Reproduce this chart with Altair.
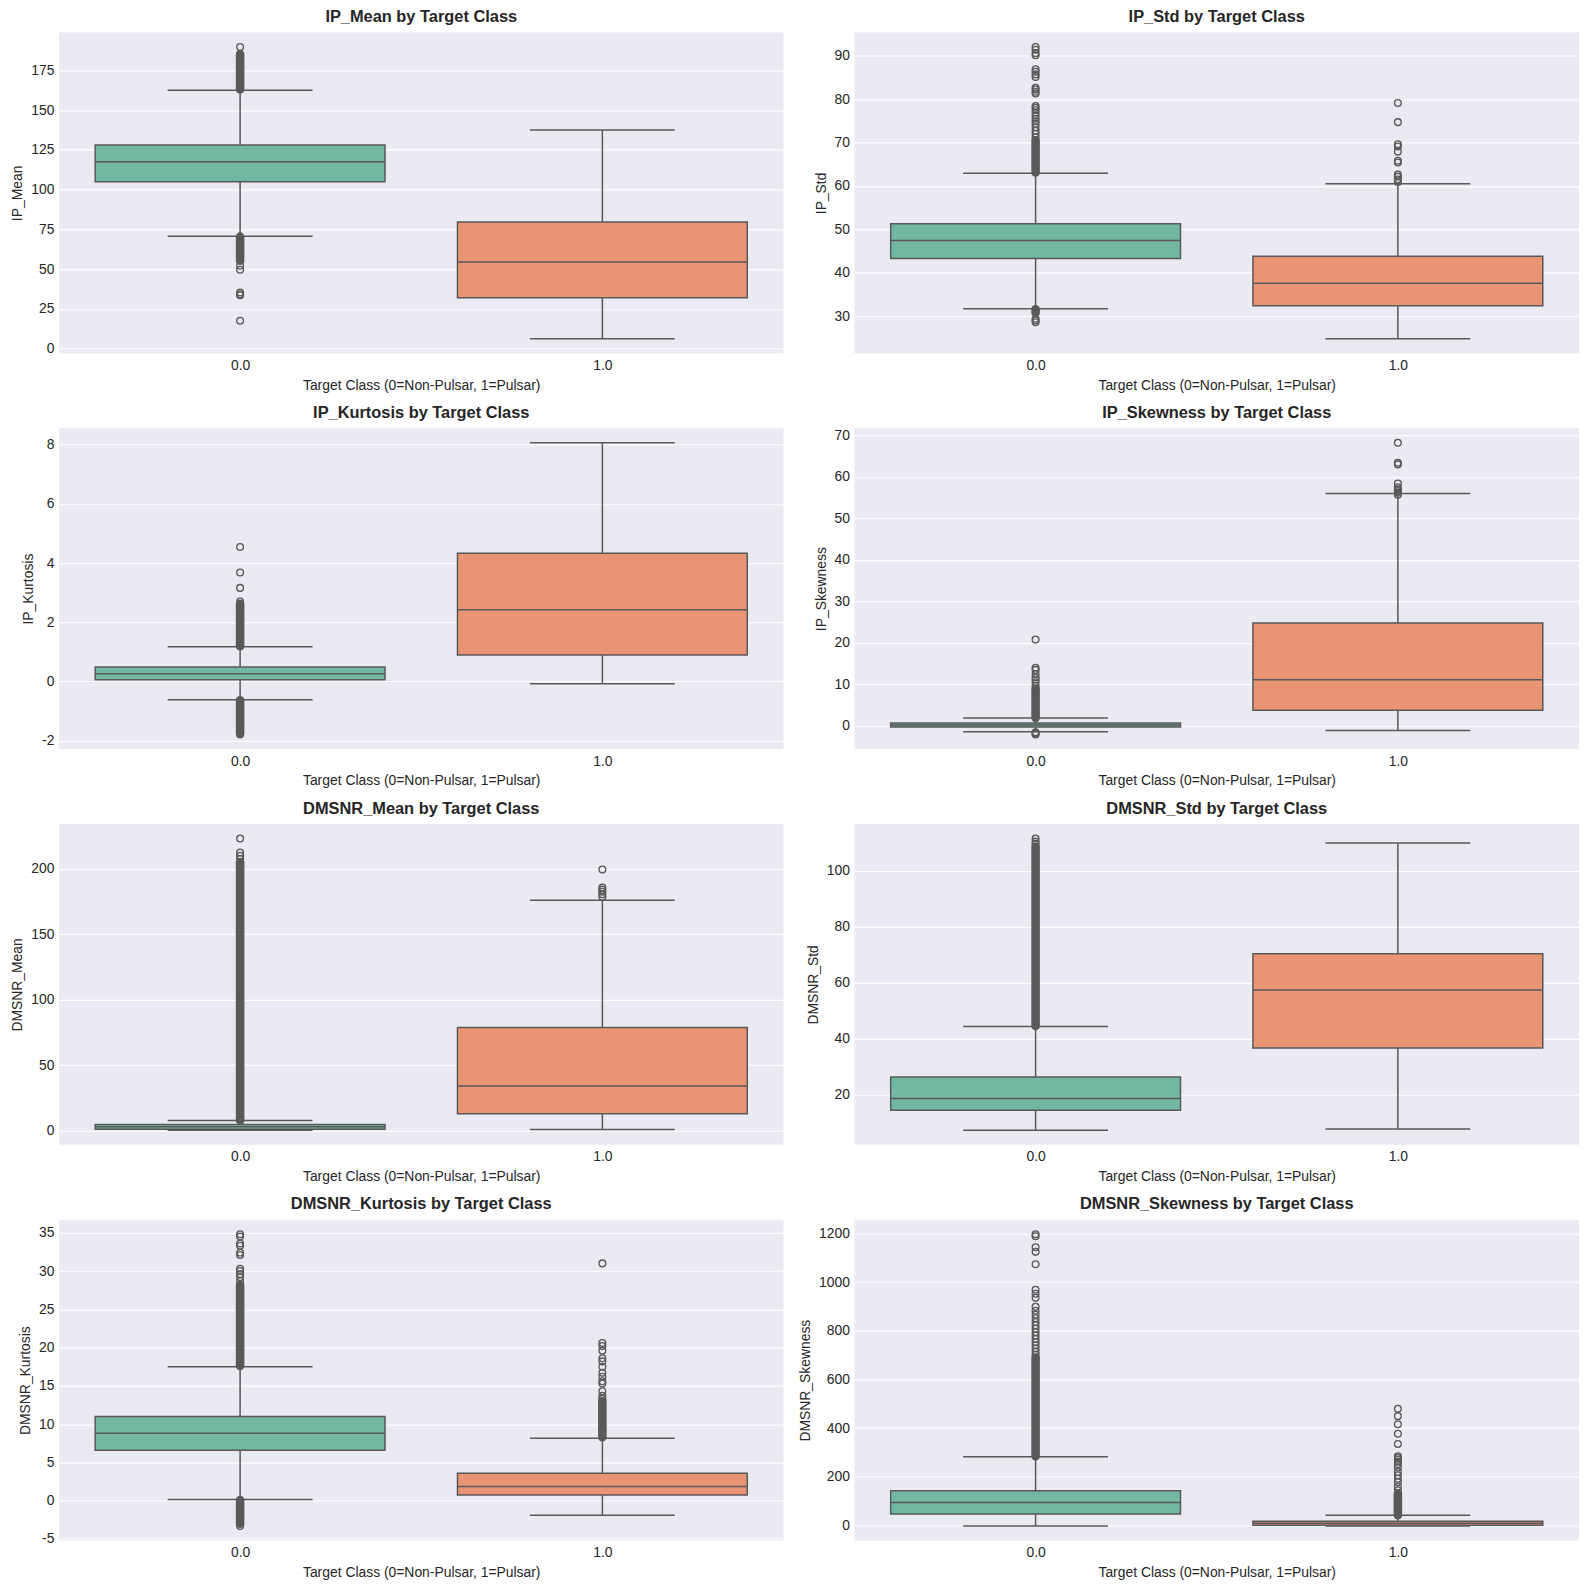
import altair as alt
import pandas as pd

FEATURES = ["IP_Mean", "IP_Std", "IP_Kurtosis", "IP_Skewness",
            "DMSNR_Mean", "DMSNR_Std", "DMSNR_Kurtosis", "DMSNR_Skewness"]
CLASSES = [0.0, 1.0]
X_TITLE = "Target Class (0=Non-Pulsar, 1=Pulsar)"

# box statistics per feature: [class 0.0, class 1.0]
Q1 = {"IP_Mean": [105.0, 31.9], "IP_Std": [43.3, 32.4], "IP_Kurtosis": [0.056, 0.89],
      "IP_Skewness": [-0.24, 3.8], "DMSNR_Mean": [1.0, 12.7], "DMSNR_Std": [14.4, 36.6],
      "DMSNR_Kurtosis": [6.6, 0.73], "DMSNR_Skewness": [47.6, 1.4]}
MEDIAN = {"IP_Mean": [117.5, 54.4], "IP_Std": [47.45, 37.6], "IP_Kurtosis": [0.256, 2.42],
          "IP_Skewness": [0.24, 11.1], "DMSNR_Mean": [2.8, 33.9], "DMSNR_Std": [18.6, 57.3],
          "DMSNR_Kurtosis": [8.8, 1.85], "DMSNR_Skewness": [93.9, 9.5]}
Q3 = {"IP_Mean": [128.1, 79.6], "IP_Std": [51.3, 43.8], "IP_Kurtosis": [0.49, 4.33],
      "IP_Skewness": [0.70, 24.8], "DMSNR_Mean": [4.5, 78.7], "DMSNR_Std": [26.3, 70.3],
      "DMSNR_Kurtosis": [11.0, 3.6], "DMSNR_Skewness": [143.0, 17.7]}
WHISK_LO = {"IP_Mean": [70.6, 6.2], "IP_Std": [31.7, 24.8], "IP_Kurtosis": [-0.62, -0.08],
            "IP_Skewness": [-1.43, -1.1], "DMSNR_Mean": [0.2, 0.76], "DMSNR_Std": [7.3, 7.7],
            "DMSNR_Kurtosis": [0.17, -1.9], "DMSNR_Skewness": [-1.98, -1.97]}
WHISK_HI = {"IP_Mean": [162.5, 137.5], "IP_Std": [62.9, 60.5], "IP_Kurtosis": [1.17, 8.06],
            "IP_Skewness": [1.90, 56.0], "DMSNR_Mean": [7.6, 176.0], "DMSNR_Std": [44.3, 109.8],
            "DMSNR_Kurtosis": [17.5, 8.17], "DMSNR_Skewness": [282.0, 42.0]}

# ranges where outliers are packed so tightly they read as a solid column: [class 0.0, class 1.0]
DENSE_RUNS = {
    "IP_Mean": [[(163.0, 185.3), (55.3, 70.4)], []],
    "IP_Std": [[(63.1, 70.5), (30.8, 31.6)], []],
    "IP_Kurtosis": [[(1.19, 2.62), (-1.75, -0.64)], []],
    "IP_Skewness": [[(1.95, 9.0)], []],
    "DMSNR_Mean": [[(7.7, 205.0)], []],
    "DMSNR_Std": [[(44.5, 108.5)], []],
    "DMSNR_Kurtosis": [[(17.6, 28.2), (-3.0, 0.1)], [(8.3, 13.0)]],
    "DMSNR_Skewness": [[(285.0, 690.0)], [(42.0, 130.0)]],
}

# individually visible outliers: [class 0.0, class 1.0]
OUTLIERS = {
    "IP_Mean": [[189.7, 52.1, 49.6, 35.3, 34.2, 33.5, 17.5], []],
    "IP_Std": [
        [71.2, 72.0, 72.7, 73.5, 74.3, 74.9, 75.5, 76.2, 76.9, 77.5, 78.0, 78.4, 81.3, 81.7,
         82.2, 82.6, 85.1, 85.7, 86.3, 86.9, 90.1, 90.6, 91.4, 92.0, 29.4, 29.0, 28.6],
        [60.9, 61.5, 62.1, 62.6, 65.4, 65.8, 67.9, 69.1, 69.6, 74.7, 79.1]],
    "IP_Kurtosis": [[2.70, 3.16, 3.68, 4.54, -1.79], []],
    "IP_Skewness": [
        [9.7, 10.5, 11.2, 11.7, 12.5, 13.5, 14.0, 20.8, -1.55, -1.8, -2.05],
        [55.7, 56.2, 56.6, 57.0, 57.5, 58.4, 63.0, 63.4, 68.2]],
    "DMSNR_Mean": [[207.5, 210.0, 212.4, 223.1], [178.5, 180.5, 182.5, 184.0, 185.6, 199.5]],
    "DMSNR_Std": [[109.5, 110.3, 111.4], []],
    "DMSNR_Kurtosis": [
        [28.7, 29.2, 29.6, 30.0, 30.3, 32.1, 32.4, 33.3, 33.6, 34.5, 34.8, -3.3],
        [13.3, 13.7, 14.3, 15.3, 15.6, 16.2, 16.7, 17.5, 18.2, 18.6, 19.6, 20.2, 20.6, 31.0]],
    "DMSNR_Skewness": [
        [702, 714, 727, 740, 753, 766, 780, 794, 808, 822, 836, 851, 866, 882, 898, 935, 952,
         968, 1073, 1124, 1143, 1188, 1196],
        [145, 160, 178, 192, 206, 220, 238, 252, 262, 270, 277, 284, 335, 377, 416, 449, 479]],
}

Y_TICKS = {
    "IP_Mean": [0, 25, 50, 75, 100, 125, 150, 175],
    "IP_Std": [30, 40, 50, 60, 70, 80, 90],
    "IP_Kurtosis": [-2, 0, 2, 4, 6, 8],
    "IP_Skewness": [0, 10, 20, 30, 40, 50, 60, 70],
    "DMSNR_Mean": [0, 50, 100, 150, 200],
    "DMSNR_Std": [20, 40, 60, 80, 100],
    "DMSNR_Kurtosis": [-5, 0, 5, 10, 15, 20, 25, 30, 35],
    "DMSNR_Skewness": [0, 200, 400, 600, 800, 1000, 1200],
}

PALETTE = ["#71b7a1", "#e99575"]
LINE = "#595959"
TEXT = "#262626"
FONT = "Liberation Sans"
BOX_HALF = 0.4
CAP_HALF = 0.2
PANEL_W, PANEL_H = 725, 321
MARKER_SIZE = 46
MARKER_STROKE = 1.3


def panel(feat):
    boxes, segs, pts, runs = [], [], [], []
    for i, c in enumerate(CLASSES):
        lab = f"{c:.1f}"
        q1, md, q3 = Q1[feat][i], MEDIAN[feat][i], Q3[feat][i]
        lo, hi = WHISK_LO[feat][i], WHISK_HI[feat][i]
        boxes.append(dict(xa=c - BOX_HALF, xb=c + BOX_HALF, ya=q1, yb=q3, cls=lab))
        segs += [
            dict(xa=c, xb=c, ya=q3, yb=hi),
            dict(xa=c, xb=c, ya=lo, yb=q1),
            dict(xa=c - CAP_HALF, xb=c + CAP_HALF, ya=hi, yb=hi),
            dict(xa=c - CAP_HALF, xb=c + CAP_HALF, ya=lo, yb=lo),
            dict(xa=c - BOX_HALF, xb=c + BOX_HALF, ya=md, yb=md),
        ]
        for a, b in DENSE_RUNS[feat][i]:
            runs.append(dict(xa=c, ya=a, yb=b))
        for v in OUTLIERS[feat][i]:
            pts.append(dict(xa=c, ya=v))
    allv = WHISK_LO[feat] + WHISK_HI[feat] + OUTLIERS[feat][0] + OUTLIERS[feat][1]
    for i in range(2):
        for a, b in DENSE_RUNS[feat][i]:
            allv += [a, b]
    vmin, vmax = min(allv), max(allv)
    pad = 0.05 * (vmax - vmin)
    yscale = alt.Scale(domain=[vmin - pad, vmax + pad], nice=False, zero=False)
    xscale = alt.Scale(domain=[-0.5, 1.5], nice=False, zero=False)

    def xenc():
        return alt.X("xa:Q", scale=xscale,
                     axis=alt.Axis(values=[0, 1], labelExpr="format(datum.value, '.1f')",
                                   title=X_TITLE, grid=False))

    def yenc():
        return alt.Y("ya:Q", scale=yscale,
                     axis=alt.Axis(values=Y_TICKS[feat], labelExpr="'' + datum.value",
                                   title=feat, grid=True))

    box_layer = alt.Chart(pd.DataFrame(boxes)).mark_rect(
        stroke=LINE, strokeWidth=1.5
    ).encode(
        x=xenc(), x2="xb:Q", y=yenc(), y2="yb:Q",
        color=alt.Color("cls:N", scale=alt.Scale(domain=["0.0", "1.0"], range=PALETTE),
                        legend=None),
    )
    seg_layer = alt.Chart(pd.DataFrame(segs)).mark_rule(
        color=LINE, strokeWidth=1.5
    ).encode(x=xenc(), x2="xb:Q", y=yenc(), y2="yb:Q")
    layers = [box_layer, seg_layer]
    if runs:
        layers.append(alt.Chart(pd.DataFrame(runs)).mark_rule(
            color=LINE, strokeWidth=8.6, strokeCap="round"
        ).encode(x=xenc(), y=yenc(), y2="yb:Q"))
    if pts:
        layers.append(alt.Chart(pd.DataFrame(pts)).mark_point(
            shape="circle", filled=False, stroke=LINE, strokeWidth=MARKER_STROKE,
            size=MARKER_SIZE, opacity=1
        ).encode(x=xenc(), y=yenc()))
    return alt.layer(*layers).properties(
        width=PANEL_W, height=PANEL_H,
        title=alt.TitleParams(text=f"{feat} by Target Class"),
    )


chart = alt.concat(
    *[panel(f) for f in FEATURES], columns=2,
    spacing={"row": 75, "column": 71}, bounds="flush",
).properties(
    padding={"left": 10, "top": 8, "right": 10, "bottom": 10},
    background="white",
).configure_view(
    fill="#EAEAF2", strokeWidth=0
).configure_axis(
    domain=False, ticks=False, tickSize=0,
    labelFont=FONT, labelFontSize=13.9, labelColor=TEXT, labelPadding=5,
    titleFont=FONT, titleFontSize=13.9, titleFontWeight="normal", titleColor=TEXT,
    titlePadding=6, gridColor="white", gridWidth=1.1, gridOpacity=1,
).configure_title(
    font=FONT, fontSize=16.4, fontWeight="bold", color=TEXT, offset=7, anchor="middle",
)

chart.save("out.html", embed_options={"renderer": "svg", "actions": False})
